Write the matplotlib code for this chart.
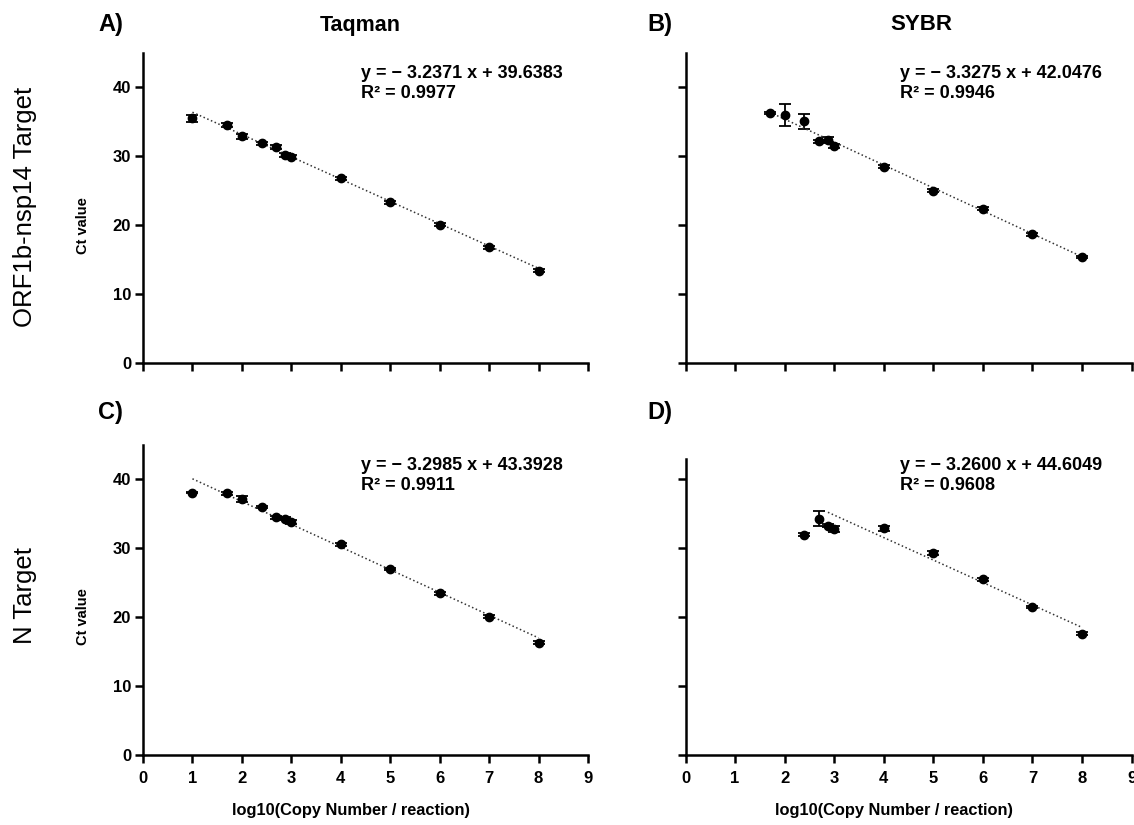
import matplotlib
matplotlib.use("Agg")
import matplotlib.pyplot as plt

plt.rcParams['font.family'] = ['Liberation Sans', 'DejaVu Sans']

# data (x = log10 copies / reaction, y = Ct)
x_a = [1.0, 1.699, 2.0, 2.398, 2.699, 2.875, 3.0, 4.0, 5.0, 6.0, 7.0, 8.0]
ct_a = [35.5, 34.5, 32.9, 31.9, 31.3, 30.2, 29.9, 26.8, 23.3, 20.1, 16.8, 13.4]
err_a = [0.5, 0.3, 0.4, 0.2, 0.3, 0.3, 0.3, 0.2, 0.2, 0.2, 0.2, 0.2]

x_b = [1.699, 2.0, 2.398, 2.699, 2.875, 3.0, 4.0, 5.0, 6.0, 7.0, 8.0]
ct_b = [36.3, 36.0, 35.1, 32.2, 32.4, 31.5, 28.5, 25.0, 22.4, 18.7, 15.4]
err_b = [0.2, 1.6, 1.1, 0.2, 0.35, 0.3, 0.2, 0.2, 0.2, 0.2, 0.2]

x_c = [1.0, 1.699, 2.0, 2.398, 2.699, 2.875, 3.0, 4.0, 5.0, 6.0, 7.0, 8.0]
ct_c = [38.1, 38.0, 37.2, 36.0, 34.5, 34.3, 33.8, 30.6, 27.0, 23.5, 20.1, 16.3]
err_c = [0.1, 0.2, 0.45, 0.2, 0.2, 0.2, 0.3, 0.2, 0.2, 0.2, 0.2, 0.2]

x_d = [2.398, 2.699, 2.875, 3.0, 4.0, 5.0, 6.0, 7.0, 8.0]
ct_d = [32.0, 34.3, 33.3, 32.8, 32.9, 29.3, 25.5, 21.5, 17.6]
err_d = [0.2, 1.1, 0.2, 0.4, 0.35, 0.25, 0.2, 0.2, 0.2]

slopes = [-3.2371, -3.3275, -3.2985, -3.2600]
intercepts = [39.6383, 42.0476, 43.3928, 44.6049]
r2 = ['0.9977', '0.9946', '0.9911', '0.9608']
fit_start = [1.0, 1.699, 1.0, 2.875]

panels = ['A)', 'B)', 'C)', 'D)']
cols = ['Taqman', 'SYBR']
rows = ['ORF1b-nsp14 Target', 'N Target']

fig = plt.figure(figsize=(11.34, 8.25), dpi=100)

pos = [[0.1261, 0.560, 0.3924, 0.3758],
       [0.6045, 0.560, 0.3933, 0.3758],
       [0.1261, 0.0848, 0.3924, 0.3758],
       [0.6045, 0.0848, 0.3933, 0.3758]]
xs = [x_a, x_b, x_c, x_d]
cts = [ct_a, ct_b, ct_c, ct_d]
errs = [err_a, err_b, err_c, err_d]
ytop = [45, 45, 45, 43]
eq_x = [0.49, 0.482, 0.49, 0.482]

for i in range(4):
    ax = fig.add_axes(pos[i])
    ax.errorbar(xs[i], cts[i], yerr=errs[i], fmt='o', color='black',
                markersize=6, capsize=4, elinewidth=1.3, capthick=1.3)
    x0, x1 = fit_start[i], 8.0
    ax.plot([x0, x1], [slopes[i] * x0 + intercepts[i], slopes[i] * x1 + intercepts[i]],
            linestyle=':', color='#333333', linewidth=1.1)
    ax.set_xlim(0, 9)
    ax.set_ylim(0, 45)
    ax.set_xticks(range(10))
    ax.set_yticks([0, 10, 20, 30, 40])
    for s in ['top', 'right']:
        ax.spines[s].set_visible(False)
    for s in ['left', 'bottom']:
        ax.spines[s].set_linewidth(1.8)
    ax.spines['left'].set_bounds(0, ytop[i])
    ax.tick_params(direction='out', length=5.5, width=1.8, labelsize=12)
    ax.tick_params(axis='x', pad=6)
    ax.tick_params(axis='y', pad=3)
    for lab in ax.get_xticklabels() + ax.get_yticklabels():
        lab.set_fontweight('bold')
    if i < 2:
        ax.tick_params(labelbottom=False)
    else:
        ax.set_xlabel('log10(Copy Number / reaction)', fontsize=11.8, fontweight='bold')
        ax.xaxis.set_label_coords(0.467, -0.155)
    if i % 2 == 1:
        ax.tick_params(labelleft=False)
    ax.text(eq_x[i], 0.962, 'y = \u2212 %.4f x + %.4f\nR\u00b2 = %s' % (-slopes[i], intercepts[i], r2[i]),
            transform=ax.transAxes, ha='left', va='top', fontsize=13,
            fontweight='bold', linespacing=1.25)

# y labels of left panels
fig.text(83 / 1134, 1 - 226 / 825, 'Ct value', fontsize=10.5, fontweight='bold',
         rotation=90, ha='center', va='center')
fig.text(83 / 1134, 1 - 617 / 825, 'Ct value', fontsize=10.5, fontweight='bold',
         rotation=90, ha='center', va='center')

# panel letters and column titles
fig.text(98 / 1134, 1 - 25 / 825, panels[0], fontsize=17, fontweight='bold', va='center')
fig.text(647 / 1134, 1 - 25 / 825, panels[1], fontsize=17, fontweight='bold', va='center')
fig.text(98 / 1134, 1 - 412 / 825, panels[2], fontsize=17, fontweight='bold', va='center')
fig.text(647 / 1134, 1 - 412 / 825, panels[3], fontsize=17, fontweight='bold', va='center')
fig.text(360 / 1134, 1 - 25 / 825, cols[0], fontsize=15.5, fontweight='bold', ha='center', va='center')
fig.text(921 / 1134, 1 - 25 / 825, cols[1], fontsize=16, fontweight='bold', ha='center', va='center')

fig.text(25 / 1134, 1 - 207 / 825, rows[0], fontsize=18.5, rotation=90, ha='center', va='center')
fig.text(25 / 1134, 1 - 596 / 825, rows[1], fontsize=18.5, rotation=90, ha='center', va='center')

fig.savefig('out.png', dpi=100, facecolor='white')
